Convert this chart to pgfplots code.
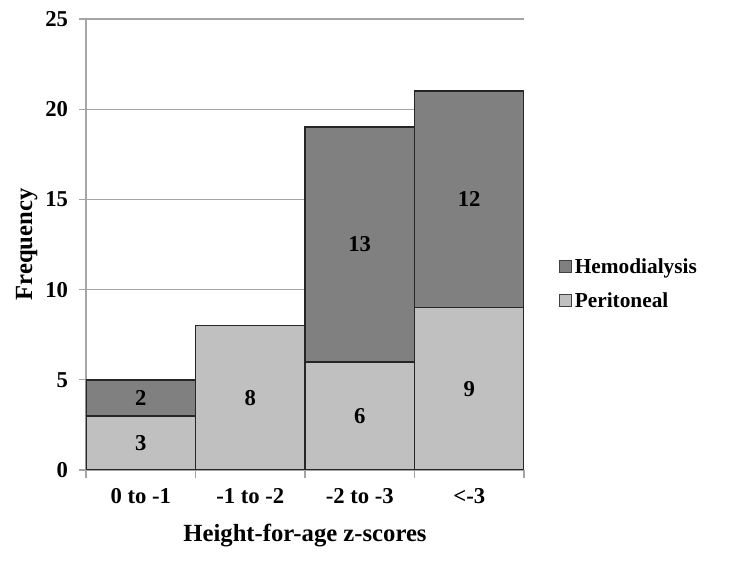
\documentclass[border=0pt]{standalone}
\usepackage{pgfplots}
\pgfplotsset{compat=1.18}
\usepackage{fontspec}
\setmainfont{Liberation Serif}
\definecolor{hemo}{RGB}{128,128,128}
\definecolor{peri}{RGB}{192,192,192}
\definecolor{gridg}{RGB}{165,165,165}
\begin{document}
\begin{tikzpicture}
\begin{axis}[
  scale only axis, width=328.5pt, height=338.25pt,
  ybar stacked, bar width=1,
  xmin=0, xmax=4, ymin=0, ymax=25,
  axis x line*=bottom, axis y line*=left,
  axis line style={draw=gridg, line width=1pt},
  xtick={0.5,1.5,2.5,3.5},
  xticklabels={0 to -1,-1 to -2,-2 to -3,<-3},
  major x tick style={draw=none},
  minor xtick={0,1,2,3,4},
  minor x tick style={draw=gridg, line width=1pt},
  minor tick length=6pt,
  ytick={0,5,...,25},
  y tick style={draw=gridg, line width=1pt},
  major tick length=5pt,
  tick align=outside,
  ymajorgrids, grid style={draw=gridg, line width=1pt},
  /pgf/number format/assume math mode=true,
  ticklabel style={font=\bfseries\fontsize{17}{20}\selectfont},
  xticklabel style={yshift=-5pt},
  yticklabel style={xshift=-5pt},
  xlabel={Height-for-age z-scores},
  ylabel={Frequency},
  label style={font=\bfseries\fontsize{18.5}{22}\selectfont},
  xlabel style={yshift=-9pt},
  ylabel style={yshift=-1pt},
  legend style={at={(1.07,0.482)}, anchor=north west, draw=none, fill=none,
    font=\bfseries\fontsize{16}{19}\selectfont, row sep=9pt},
  legend cell align=left,
  reverse legend,
  legend image code/.code={\draw[#1, draw=black!75, line width=0.9pt] (0pt,-4.5pt) rectangle (9pt,4.5pt);},
  visualization depends on=rawy\as\rawy,
  nodes near coords={\ifdim\rawy pt>0pt \pgfmathprintnumber{\rawy}\fi},
  every node near coord/.append style={anchor=center, font=\bfseries\fontsize{17}{20}\selectfont},
]
\addplot[fill=peri, draw=black!85, line width=1.2pt] coordinates {(0.5,3) (1.5,8) (2.5,6) (3.5,9)};
\addlegendentry{Peritoneal}
\addplot[fill=hemo, draw=black!85, line width=1.2pt] coordinates {(0.5,2) (1.5,0) (2.5,13) (3.5,12)};
\addlegendentry{Hemodialysis}
\end{axis}
\path (current axis.south west) ++(-64.5pt,-81pt) rectangle ++(549.75pt,433.5pt);
\end{tikzpicture}
\end{document}
